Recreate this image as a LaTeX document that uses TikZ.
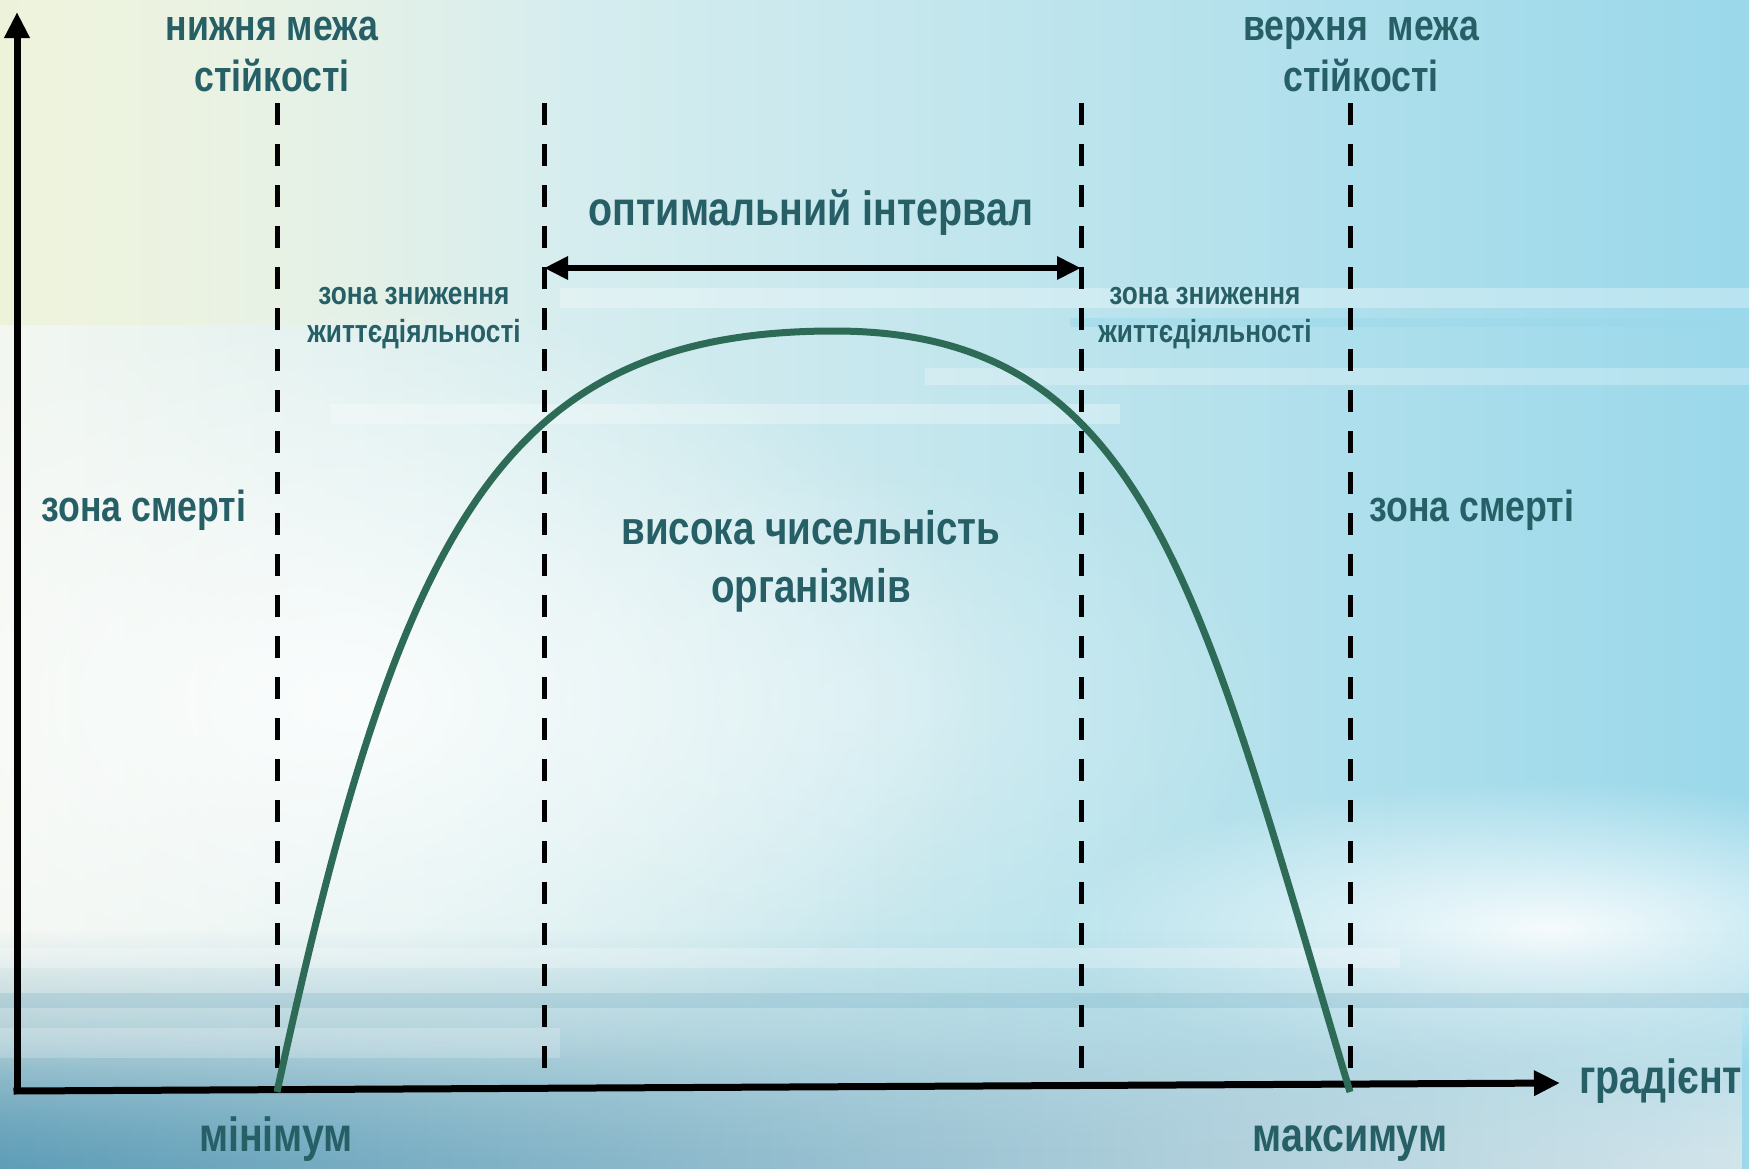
\documentclass[tikz,border=0pt]{standalone}
\usepackage{fontspec}
\setmainfont{Liberation Sans}[FakeStretch=0.82]
\usetikzlibrary{arrows.meta,fadings,positioning}

\definecolor{labeltxt}{HTML}{265F66}
\definecolor{curvegreen}{HTML}{2E6B57}
\definecolor{skyleft}{HTML}{F3F7F1}
\definecolor{skymid}{HTML}{C9E8F1}
\definecolor{skyright}{HTML}{9AD8EA}
\definecolor{skyyellow}{HTML}{ECF2D4}
\definecolor{seadark}{HTML}{5F9EB8}
\definecolor{sealight}{HTML}{D3E5EB}

\tikzfading[name=glowfade, inner color=transparent!0, outer color=transparent!100]

\tikzset{
  bigtxt/.style={text=labeltxt, font=\fontsize{48}{56}\selectfont\bfseries, align=center, anchor=base, inner sep=0pt},
  midtxt/.style={text=labeltxt, font=\fontsize{43.5}{51}\selectfont\bfseries, align=center, anchor=base, inner sep=0pt},
  smalltxt/.style={text=labeltxt, font=\fontsize{32}{38}\selectfont\bfseries, align=center, anchor=base, inner sep=0pt},
  limitline/.style={line width=5pt, dash pattern=on 22pt off 19pt},
  axisline/.style={line width=7pt, -{Triangle[length=26pt,width=24pt]}},
  optarrow/.style={line width=6pt, {Triangle[length=24pt,width=22pt]}-{Triangle[length=24pt,width=22pt]}},
  bellcurve/.style={curvegreen, line width=7pt},
}

\begin{document}
\begin{tikzpicture}[x=1pt, y=-1pt]
  \useasboundingbox (0,0) rectangle (1749,1168);

  % background
  \shade[left color=skyleft, middle color=skymid, right color=skyright] (0,0) rectangle (1749,1168);
  \fill[skyyellow, path fading=east, fit fading=true, opacity=.75] (0,0) rectangle (560,325);
  \fill[white, path fading=glowfade, fit fading=true, opacity=.85] (-300,300) rectangle (1000,1100);
  \fill[white, path fading=glowfade, fit fading=true, opacity=.3] (400,450) rectangle (1300,950);
  \fill[white, path fading=glowfade, fit fading=true, opacity=.9] (1050,780) rectangle (2050,1080);
  \shade[left color=seadark, right color=sealight, path fading=north, fit fading=true] (0,930) rectangle (1749,1168);
  \shade[left color=seadark, right color=sealight, path fading=north, fit fading=true, opacity=.6] (0,1040) rectangle (1749,1168);
  \fill[white, opacity=.3] (560,288) rectangle (1749,308);
  \fill[skyright, opacity=.5] (1070,318) rectangle (1749,327);
  \fill[white, opacity=.25] (925,368) rectangle (1749,385);
  \fill[white, opacity=.3] (330,404) rectangle (1120,424);
  \fill[white, opacity=.25] (0,948) rectangle (1400,968);
  \fill[seadark, opacity=.2] (0,993) rectangle (1749,1008);
  \fill[white, opacity=.2] (0,1028) rectangle (560,1058);

  % limits
  \coordinate (lowtop) at (277,103);
  \coordinate (lowbot) at (277,1088);
  \coordinate (optLtop) at (544,103);
  \coordinate (optLbot) at (544,1073);
  \coordinate (optRtop) at (1081,103);
  \coordinate (optRbot) at (1081,1073);
  \coordinate (uptop) at (1350,103);
  \coordinate (upbot) at (1350,1088);
  \draw[limitline] (lowtop) -- (lowbot);
  \draw[limitline] (optLtop) -- (optLbot);
  \draw[limitline] (optRtop) -- (optRbot);
  \draw[limitline] (uptop) -- (upbot);

  % axes
  \coordinate (O) at (17,1091);
  \coordinate (ytip) at (17,12);
  \coordinate (xtip) at (1560,1083);
  \draw[axisline] (O) -- (ytip);
  \draw[axisline] ([xshift=-3.5pt]O) -- (xtip);

  \coordinate (optL) at (544,268);
  \coordinate (optR) at (1081,268);
  \draw[optarrow] (optL) -- (optR);

  % tolerance curve
  \coordinate (minpt) at (277,1092);
  \coordinate (peak) at (834,331);
  \coordinate (maxpt) at (1350,1092);
  \draw[bellcurve] (minpt) .. controls (399,530) and (500,331) .. (peak)
                           .. controls (1147,331) and (1199,586) .. (maxpt);

  % labels
  \node[midtxt] (lowlim) at (272,91) {нижня межа\\стійкості};
  \node[midtxt] (uplim) at (1361,91) {верхня~ межа\\стійкості};
  \node[bigtxt] (optlab) at (811,225) {оптимальний інтервал};
  \node[smalltxt] (redL) at (414,342) {зона зниження\\життєдіяльності};
  \node[smalltxt] (redR) at (1205,342) {зона зниження\\життєдіяльності};
  \node[midtxt] (deathL) at (144,521) {зона смерті};
  \node[midtxt] (deathR) at (1472,521) {зона смерті};
  \node[bigtxt, font=\fontsize{47}{58}\selectfont\bfseries] (highpop) at (811,602) {висока чисельність\\організмів};
  \node[bigtxt] (minlab) at (276,1151) {мінімум};
  \node[bigtxt] (maxlab) at (1350,1151) {максимум};
  \node[bigtxt, anchor=base west] (gradlab) at (1579,1093) {градієнт};
\end{tikzpicture}
\end{document}
